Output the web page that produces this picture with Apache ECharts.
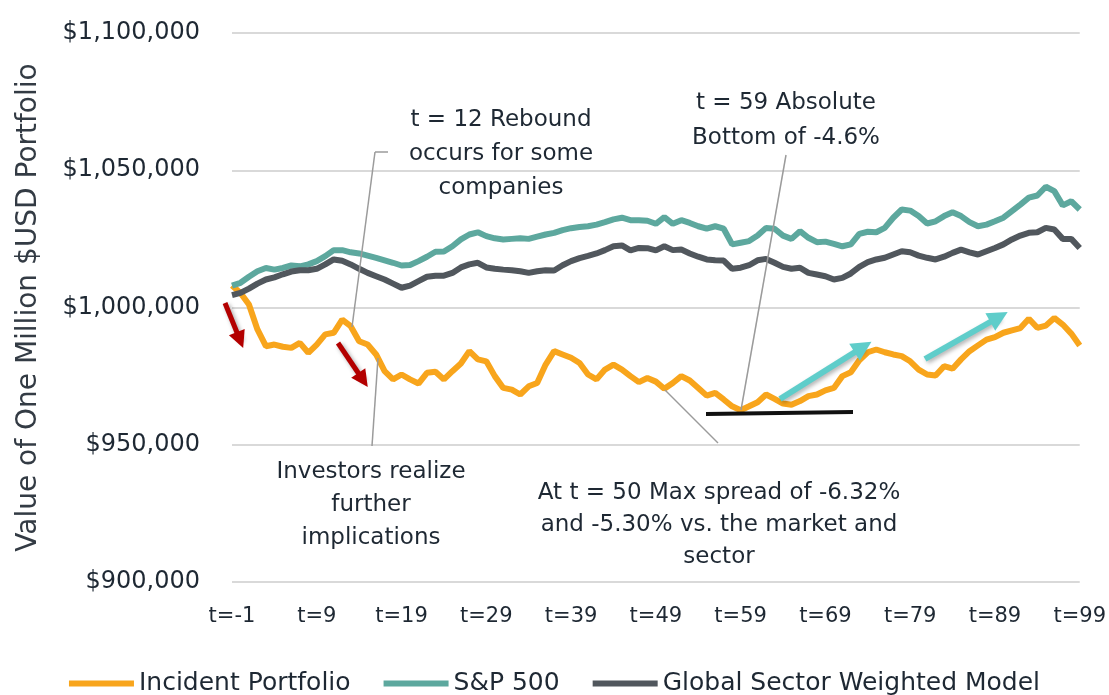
<!DOCTYPE html>
<html>
<head>
<meta charset="utf-8">
<title>Incident portfolio vs market</title>
<script src="https://cdn.jsdelivr.net/npm/echarts@6/dist/echarts.min.js"></script>
<style>
  body { margin: 0; background: #fff; }
  #chart { width: 1109px; height: 695px; }
</style>
</head>
<body>
<div id="chart"></div>
<script>
  // time steps t=-1 ... t=99
  const timeSteps = [];
  for (let t = -1; t <= 99; t++) timeSteps.push('t=' + t);

  const seriesNames = ['Incident Portfolio', 'S&P 500', 'Global Sector Weighted Model'];

  const incidentPortfolio = [
    1008000, 1005300, 1001100, 992000, 985900, 986500, 985700, 985300, 987100, 983500,
    986500, 990200, 990800, 995600, 993200, 987700, 986500, 982900, 976800, 973800,
    975600, 973800, 972300, 976200, 976600, 973800, 976800, 979600, 984100, 981100,
    980400, 975000, 970700, 970100, 968300, 971300, 972500, 979200, 984100, 982900,
    981700, 979800, 975600, 973800, 977400, 979200, 977400, 975000, 972800, 974300,
    973000, 970400, 972500, 975000, 973400, 970700, 967900, 968900, 966500, 964000,
    962600, 964000, 965500, 968300, 966700, 965000, 964600, 965900, 967700, 968300,
    969800, 970700, 975000, 976400, 980800, 983700, 984700, 983700, 982900, 982300,
    980400, 977400, 975600, 975200, 978600, 977700, 981100, 984100, 986200, 988300,
    989200, 990800, 991700, 992500, 995900, 992600, 993400, 996200, 993800, 990500,
    986200
  ];

  const sp500 = [
    1008000, 1009000, 1011200, 1013200, 1014400, 1013800, 1014400, 1015300, 1015000, 1015700,
    1016900, 1018700, 1020900, 1020900, 1020100, 1019700, 1018900, 1018100, 1017200, 1016300,
    1015300, 1015500, 1016900, 1018500, 1020300, 1020400, 1022300, 1024800, 1026600, 1027400,
    1026000, 1025200, 1024800, 1025000, 1025200, 1025000, 1025800, 1026600, 1027200, 1028200,
    1028900, 1029300, 1029600, 1030200, 1031100, 1032100, 1032700, 1031800, 1031800, 1031600,
    1030500, 1032900, 1030500, 1031800, 1030800, 1029600, 1028700, 1029600, 1028700, 1023000,
    1023600, 1024200, 1026200, 1029000, 1028700, 1026200, 1025000, 1027800, 1025400, 1023800,
    1024000, 1023200, 1022300, 1023000, 1026800, 1027600, 1027400, 1029000, 1032700, 1035700,
    1035300, 1033300, 1030600, 1031400, 1033300, 1034700, 1033300, 1031100, 1029600, 1030200,
    1031400, 1032700, 1035100, 1037500, 1040000, 1040800, 1044000, 1042400, 1037200, 1038700,
    1035700
  ];

  const sectorModel = [
    1004500, 1005300, 1006900, 1008700, 1010200, 1011000, 1012100, 1013100, 1013600, 1013600,
    1014100, 1015700, 1017500, 1017000, 1015700, 1014100, 1012600, 1011400, 1010200, 1008700,
    1007200, 1008000, 1009600, 1011200, 1011600, 1011600, 1012600, 1014600, 1015700, 1016300,
    1014600, 1014100, 1013800, 1013600, 1013200, 1012600, 1013200, 1013600, 1013500, 1015400,
    1016900, 1018000, 1018800, 1019700, 1020900, 1022300, 1022600, 1020800, 1021700, 1021600,
    1020800, 1022300, 1020900, 1021100, 1019700, 1018500, 1017500, 1017200, 1017100, 1014100,
    1014500, 1015400, 1017200, 1017700, 1016300, 1014800, 1014100, 1014500, 1012600, 1012000,
    1011400, 1010200, 1010800, 1012400, 1014800, 1016500, 1017500, 1018100, 1019300, 1020500,
    1020100, 1018900, 1018100, 1017500, 1018500, 1019900, 1021100, 1020100, 1019300, 1020500,
    1021700, 1023000, 1024800, 1026200, 1027200, 1027400, 1029000, 1028400, 1025000, 1025000,
    1021700
  ];

  const textColor = '#1e2833'
  const font = 'DejaVu Sans'

  const chart = echarts.init(document.getElementById('chart'))

  function note(text, x, y, lh) {
    return {
      type: 'text', x: x, y: y, silent: true,
      style: {
        text: text, fill: textColor, font: '23px "' + font + '"',
        align: 'center', verticalAlign: 'middle', lineHeight: lh
      }
    }
  }

  function seg(x1, y1, x2, y2, style) {
    return [{ x: x1, y: y1, lineStyle: style }, { x: x2, y: y2 }]
  }

  const leader = { color: '#9b9b9b', width: 1.5, type: 'solid' }

  chart.setOption({
    animation: false,
    grid: { left: 232, right: 29, top: 33, bottom: 113 },
    legend: {
      data: seriesNames,
      left: 'center',
      top: 666,
      icon: 'rect',
      itemWidth: 65,
      itemHeight: 6,
      itemGap: 33,
      textStyle: { fontFamily: font, fontSize: 25, color: textColor }
    },
    xAxis: {
      type: 'category',
      data: timeSteps,
      boundaryGap: false,
      axisLine: { show: false },
      axisTick: { show: false },
      splitLine: { show: false },
      axisLabel: { interval: 9, margin: 24, fontFamily: font, fontSize: 21, color: textColor }
    },
    yAxis: {
      type: 'value',
      min: 900000,
      max: 1100000,
      interval: 50000,
      name: 'Value of One Million $USD Portfolio',
      nameLocation: 'middle',
      nameGap: 189,
      nameTextStyle: { fontFamily: font, fontSize: 28, color: '#333b44' },
      axisLine: { show: false },
      axisTick: { show: false },
      splitLine: { lineStyle: { color: '#d9d9d9', width: 2 } },
      axisLabel: {
        margin: 32, fontFamily: font, fontSize: 24, color: textColor,
        formatter: function (v) { return '$' + v.toLocaleString('en-US') }
      }
    },
    series: [
      {
        name: seriesNames[0],
        type: 'line',
        data: incidentPortfolio,
        showSymbol: false,
        color: '#F8A51C',
        lineStyle: { width: 6 },
        markLine: {
          silent: true,
          symbol: ['none', 'triangle'],
          symbolSize: 17,
          label: { show: false },
          lineStyle: { color: '#B30000', width: 5, type: 'solid', shadowBlur: 4, shadowColor: 'rgba(0,0,0,0.35)', shadowOffsetX: 2, shadowOffsetY: 2 },
          data: [
            [{ x: 225, y: 303 }, { x: 240, y: 340 }],
            [{ x: 338, y: 343 }, { x: 363, y: 380 }]
          ]
        }
      },
      {
        name: seriesNames[1],
        type: 'line',
        data: sp500,
        showSymbol: false,
        color: '#5DA89E',
        lineStyle: { width: 6 },
        markLine: {
          silent: true,
          symbol: ['none', 'triangle'],
          symbolSize: 20,
          label: { show: false },
          lineStyle: { color: '#5FCDCA', width: 6, type: 'solid', shadowBlur: 4, shadowColor: 'rgba(0,0,0,0.3)', shadowOffsetX: 2, shadowOffsetY: 2 },
          data: [
            [{ x: 780, y: 399 }, { x: 863, y: 347 }],
            [{ x: 925, y: 359 }, { x: 999, y: 317 }]
          ]
        }
      },
      {
        name: seriesNames[2],
        type: 'line',
        data: sectorModel,
        showSymbol: false,
        color: '#51575D',
        lineStyle: { width: 6 },
        markLine: {
          silent: true,
          symbol: ['none', 'none'],
          label: { show: false },
          lineStyle: leader,
          data: [
            seg(388, 152, 375, 152, leader),
            seg(375, 152, 352, 327, leader),
            seg(378, 358, 372, 446, leader),
            seg(786, 155, 741, 410, leader),
            seg(665, 390, 718, 443, leader),
            seg(706, 414, 853, 412, { color: '#111', width: 4, type: 'solid' })
          ]
        }
      }
    ],
    graphic: [
      note('t = 12 Rebound\noccurs for some\ncompanies', 501, 154, 34),
      note('t = 59 Absolute\nBottom of -4.6%', 786, 121, 35),
      note('Investors realize\nfurther\nimplications', 371, 505, 33),
      note('At t = 50 Max spread of -6.32%\nand -5.30% vs. the market and\nsector', 719, 525, 32)
    ]
  })

  window.addEventListener('resize', function () {
    chart.resize()
  })
</script>
</body>
</html>
